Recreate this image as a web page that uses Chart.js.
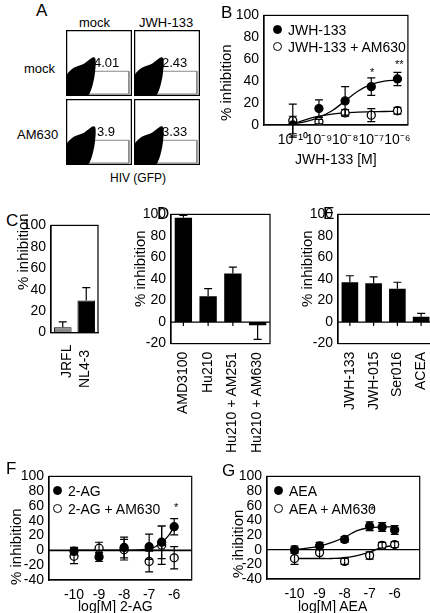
<!DOCTYPE html>
<html><head><meta charset="utf-8">
<script src="https://cdn.jsdelivr.net/npm/chart.js@4"></script>
<style>
body{margin:0;width:430px;height:613px;position:relative;background:#fff;font-family:"Liberation Sans",Arial,sans-serif;color:#000;overflow:hidden}
.t{position:absolute;white-space:nowrap;font-size:13px;line-height:1}
.L{position:absolute;font-size:17px;line-height:1}
canvas{position:absolute}
.rot{position:absolute;transform-origin:0 0;transform:rotate(-90deg);white-space:nowrap;font-size:13px;line-height:1}
.dot{display:inline-block;width:7px;height:7px;border-radius:50%;border:1.3px solid #000;margin-right:6px;vertical-align:1px}
</style></head><body>
<script>
// ---------------- DATA ----------------
const flowLabels = [["4.01","2.43"],["3.9","3.33"]];
const xLog = [-10,-9,-8,-7,-6];
const bJwh = [0,15,22,35,42], bJwhErr = [8,8,13,8,6];
const bAm = [4,3,11,9,13], bAmErr = [15,2,3,6,3];
const bCurveX = [-10,-9.5,-9,-8.5,-8,-7.5,-7,-6.5,-6];
const bCurveJwh = [1,3,7,13,22,31,37,40,41];
const bCurveAm = [1,5,8,10,11,11.8,12,12.3,12.5];
const cCats = ["JRFL","NL4-3"], cVals = [5,30], cErr = [5,12];
const dCats = ["AMD3100","Hu210","Hu210 + AM251","Hu210 + AM630"], dVals = [97,24,45,-3], dErr = [2,7,6,13];
const eCats = ["JWH-133","JWH-015","Ser016","ACEA"], eVals = [37,36,31,5], eErr = [6,6,6,3];
const fX = [-10,-9,-8,-7,-6.5,-6];
const f2ag = [-1,-9,4,5,11,32], f2agErr = [5,6,14,17,22,11];
const f2agAm = [-8,3,1,-15,7,-10], f2agAmErr = [10,8,14,14,26,15];
const fCurveX = [-10,-9,-8,-7.5,-7,-6.75,-6.5,-6.25,-6];
const fCurve2ag = [0,0,0,0.5,2,5,11,19,32];
const fCurveAm = [0,0,0,0,0,0,0,0,0];
const gAea = [0,5,14,32,31,27], gAeaErr = [5,5,4,6,6,6];
const gAeaAm = [-12,-4,-16,-8,6,7], gAeaAmErr = [8,8,4,5,4,4];
const gCurveX = [-10,-9.5,-9,-8.5,-8,-7.5,-7,-6.5,-6];
const gCurveAea = [0,2,5,10,17,26,30,31,31];
const gCurveAm = [-12,-12,-12,-12,-11,-8,-3,3,6];
const yTicks100 = [0,20,40,60,80,100];
const yTicksNeg = [-20,0,20,40,60,80,100];
const yTicksNeg40 = [-40,-20,0,20,40,60,80,100];
</script>
<script>
Chart.defaults.color = '#000';
Chart.defaults.font = {family:"'Liberation Sans', Arial, sans-serif", size:13};
Chart.defaults.animation = false;
const PT = 9; // canvas padding above plot for top tick label

function txt(s,x,y,size){const d=document.createElement('div');d.className='t';d.style.left=x+'px';d.style.top=y+'px';if(size)d.style.fontSize=size+'px';d.innerHTML=s;document.body.appendChild(d);return d;}
function lab(s,x,y){const d=document.createElement('div');d.className='L';d.style.left=x+'px';d.style.top=y+'px';d.textContent=s;document.body.appendChild(d);}
function rot(s,x,y,size){const d=document.createElement('div');d.className='rot';d.style.left=x+'px';d.style.top=y+'px';if(size)d.style.fontSize=size+'px';d.textContent=s;document.body.appendChild(d);return d;}

const framePlugin = {id:'frame', afterDraw(c,a,o){const ca=c.chartArea,x=c.ctx;x.save();x.strokeStyle='#000';x.lineWidth=1.2;
  if(o.box!==false) x.strokeRect(ca.left,ca.top,ca.right-ca.left,ca.bottom-ca.top);
  if(o.zero){const y=c.scales.y.getPixelForValue(0);x.beginPath();x.moveTo(ca.left,y);x.lineTo(ca.right,y);x.lineWidth=o.zeroW||1.2;x.stroke();
    if(o.zeroTicks){c.data.labels.forEach((t,i)=>{const px=c.scales.x.getPixelForValue(i);x.beginPath();x.moveTo(px,y);x.lineTo(px,y+4);x.lineWidth=1.2;x.stroke();});}}
  x.restore();}};
const errPlugin = {id:'errbars', afterDatasetsDraw(c){const x=c.ctx;c.data.datasets.forEach((ds,i)=>{if(!ds.err)return;const m=c.getDatasetMeta(i);x.save();x.strokeStyle='#000';x.lineWidth=1.2;
  m.data.forEach((el,j)=>{const v=ds.bar?ds.data[j]:ds.data[j].y;const e=ds.err[j];const px=el.x;const ys=c.scales.y;
    const dirs=ds.bar?[v>=0?1:-1]:[1,-1];dirs.forEach(d=>{const y0=ys.getPixelForValue(v),y1=ys.getPixelForValue(v+d*e);x.beginPath();x.moveTo(px,y0);x.lineTo(px,y1);x.moveTo(px-4,y1);x.lineTo(px+4,y1);x.stroke();});});
  x.restore();});}};
Chart.register(framePlugin, errPlugin);

function mk(left,top,pw,ph,yW,xH,cfg){const cv=document.createElement('canvas');const W=pw+yW+2,H=ph+xH+PT+1;cv.width=W;cv.height=H;cv.style.width=W+'px';cv.style.height=H+'px';cv.style.left=(left-yW)+'px';cv.style.top=(top-PT)+'px';document.body.appendChild(cv);
  cfg.options=cfg.options||{};Object.assign(cfg.options,{responsive:false,devicePixelRatio:1,layout:{padding:{top:PT,right:1,left:0,bottom:0}}});
  cfg.options.plugins=Object.assign({legend:{display:false},tooltip:{enabled:false}},cfg.options.plugins||{});
  cfg.options.scales.y.afterFit=s=>{s.width=yW;};cfg.options.scales.x.afterFit=s=>{s.height=xH;};
  return new Chart(cv,cfg);}

function yScale(min,max,ticks){return {min,max,afterBuildTicks:s=>{s.ticks=ticks.map(v=>({value:v}));},grid:{display:false,drawTicks:true,tickLength:4,tickColor:'#000'},border:{display:true,color:'#000',width:1.2},ticks:{font:{size:14},padding:1,autoSkip:false}};}
function xLogScale(min,max,cb){return {type:'linear',min,max,afterBuildTicks:s=>{s.ticks=xLog.map(v=>({value:v}));},grid:{display:false,tickLength:4,tickColor:'#000'},border:{display:true,color:'#000',width:1.2},ticks:{font:{size:14},maxRotation:0,autoSkip:false,padding:3,callback:cb}};}
const pts=(xs,ys)=>xs.map((x,i)=>({x,y:ys[i]}));
function ptDs(xs,ys,err,filled){return {type:'scatter',data:pts(xs,ys),err,pointRadius:4,pointBackgroundColor:filled?'#000':'#fff',pointBorderColor:'#000',pointBorderWidth:1.3,showLine:false,order:0};}
function lineDs(xs,ys){return {type:'line',data:pts(xs,ys),borderColor:'#000',borderWidth:1.3,pointRadius:0,tension:0.4,fill:false,order:1};}

// ---------- Panel A (flow plots) ----------
lab('A',36,2);
txt('mock',79,16,13);txt('JWH-133',139,16,13);
txt('mock',24,62,13);txt('AM630',17,128,13);
txt('HIV (GFP)',110,172,12);
const boxes=[[66,30],[134,30],[66,99],[134,99]];
const gate=[[17,50],[29,40],[61,40],[61,62],[17,62]];
const blob=[[2,63],[2,44],[8,38],[18,34],[27,28],[26,46],[20,63]];
boxes.forEach((b,k)=>{const r=Math.floor(k/2),c=k%2;
  const cv=document.createElement('canvas');cv.width=66;cv.height=66;cv.style.left=b[0]+'px';cv.style.top=b[1]+'px';document.body.appendChild(cv);
  new Chart(cv,{type:'scatter',data:{datasets:[
    {data:blob.concat([blob[0]]).map(p=>({x:p[0],y:p[1]})),showLine:true,fill:'shape',backgroundColor:'#000',borderColor:'#000',pointRadius:0,tension:0.2},
    {data:gate.concat([gate[0]]).map(p=>({x:p[0],y:p[1]})),showLine:true,borderColor:'#888',borderWidth:1,pointRadius:0}]},
    options:{responsive:false,devicePixelRatio:1,animation:false,plugins:{legend:{display:false},tooltip:{enabled:false}},layout:{padding:0},
    scales:{x:{display:false,min:0,max:64},y:{display:false,min:0,max:64,reverse:true}}},plugins:[{id:'bx',afterDraw(ch){const x=ch.ctx;x.save();x.strokeStyle='#000';x.lineWidth=1.5;x.strokeRect(0.5,0.5,65,65);x.restore();}}]});
  txt(flowLabels[r][c],b[0]+(flowLabels[r][c].length>3?28:31),b[1]+26,13);
});

// ---------- Panel B ----------
lab('B',221,4);
mk(264,15,148,109,40,30,{type:'scatter',data:{datasets:[lineDs(bCurveX,bCurveJwh),lineDs(bCurveX,bCurveAm),ptDs(xLog,bJwh,bJwhErr,true),ptDs(xLog,bAm,bAmErr,false)]},
  options:{scales:{x:xLogScale(-11.1,-5.6,v=>'10'+({'-10':'⁻¹⁰','-9':'⁻⁹','-8':'⁻⁸','-7':'⁻⁷','-6':'⁻⁶'})[v]),y:yScale(0,100,yTicks100)},plugins:{frame:{}}}});
rot('% inhibition',218,121,15);
txt('JWH-133 [M]',295,152,14);
txt('<span class="dot" style="background:#000"></span>JWH-133',273,23,14);
txt('<span class="dot"></span>JWH-133 + AM630',273,40,14);
txt('*',370,67,11);txt('**',395,59,11);

// ---------- Panel C ----------
lab('C',6,212);
mk(51,225,46,108,40,8,{type:'bar',data:{labels:cCats,datasets:[{data:cVals,err:cErr,bar:true,backgroundColor:['#888','#000'],borderColor:'#000',borderWidth:1,barPercentage:0.75,categoryPercentage:1}]},
  options:{scales:{x:{grid:{display:false,tickLength:0},border:{color:'#000',width:1.2},ticks:{display:false}},y:yScale(0,100,yTicks100)},plugins:{frame:{}}}});
rot('% inhibition',15,290,15);
rot('JRFL',59,378,14);rot('NL4-3',77,388,14);

// ---------- Panel D ----------
lab('D',157,205);
mk(171,214,98,130,40,8,{type:'bar',data:{labels:dCats,datasets:[{data:dVals,err:dErr,bar:true,backgroundColor:'#000',borderColor:'#000',barPercentage:0.7,categoryPercentage:1}]},
  options:{scales:{x:{grid:{display:false,tickLength:0},border:{display:false},ticks:{display:false}},y:yScale(-20,100,yTicksNeg)},plugins:{frame:{zero:true,zeroTicks:true}}}});
rot('% inhibition',132,307,15);
dCats.forEach((s,i)=>{const d=rot(s,175+i*24.5,0,14);d.style.top=(352+d.offsetWidth)+'px';});

// ---------- Panel E ----------
lab('E',323,205);
mk(338,214,94,130,40,8,{type:'bar',data:{labels:eCats,datasets:[{data:eVals,err:eErr,bar:true,backgroundColor:'#000',borderColor:'#000',barPercentage:0.7,categoryPercentage:1}]},
  options:{scales:{x:{grid:{display:false,tickLength:0},border:{display:false},ticks:{display:false}},y:yScale(-20,100,yTicksNeg)},plugins:{frame:{zero:true,zeroTicks:true}}}});
rot('% inhibition',299,307,15);
eCats.forEach((s,i)=>{const d=rot(s,342+i*23.5,0,14);d.style.top=(352+d.offsetWidth)+'px';});

// ---------- Panel F ----------
lab('F',6,460);
mk(49,476,146,103,38,24,{type:'scatter',data:{datasets:[lineDs(fCurveX,fCurve2ag),lineDs(fCurveX,fCurveAm),ptDs(fX,f2ag,f2agErr,true),ptDs(fX,f2agAm,f2agAmErr,false)]},
  options:{scales:{x:xLogScale(-11.0,-5.3,v=>String(v)),y:yScale(-40,100,yTicksNeg40)},plugins:{frame:{zero:true,zeroW:1.8}}}});
rot('% inhibition',8,585,15);
txt('log[M] 2-AG',78,599,14);
txt('<span class="dot" style="background:#000"></span>2-AG',53,484,14);
txt('<span class="dot"></span>2-AG + AM630',53,502,14);
txt('*',174,502,11);

// ---------- Panel G ----------
lab('G',222,462);
mk(267,476,156,102,38,24,{type:'scatter',data:{datasets:[lineDs(gCurveX,gCurveAea),lineDs(gCurveX,gCurveAm),ptDs(fX,gAea,gAeaErr,true),ptDs(fX,gAeaAm,gAeaAmErr,false)]},
  options:{scales:{x:xLogScale(-11.1,-5.0,v=>String(v)),y:yScale(-40,100,yTicksNeg40)},plugins:{frame:{zero:true}}}});
rot('% ihibition',230,578,15);
txt('log[M] AEA',298,599,14);
txt('<span class="dot" style="background:#000"></span>AEA',274,484,14);
txt('<span class="dot"></span>AEA + AM630',274,502,14);
txt('*',370,505,11);
</script>
</body></html>
